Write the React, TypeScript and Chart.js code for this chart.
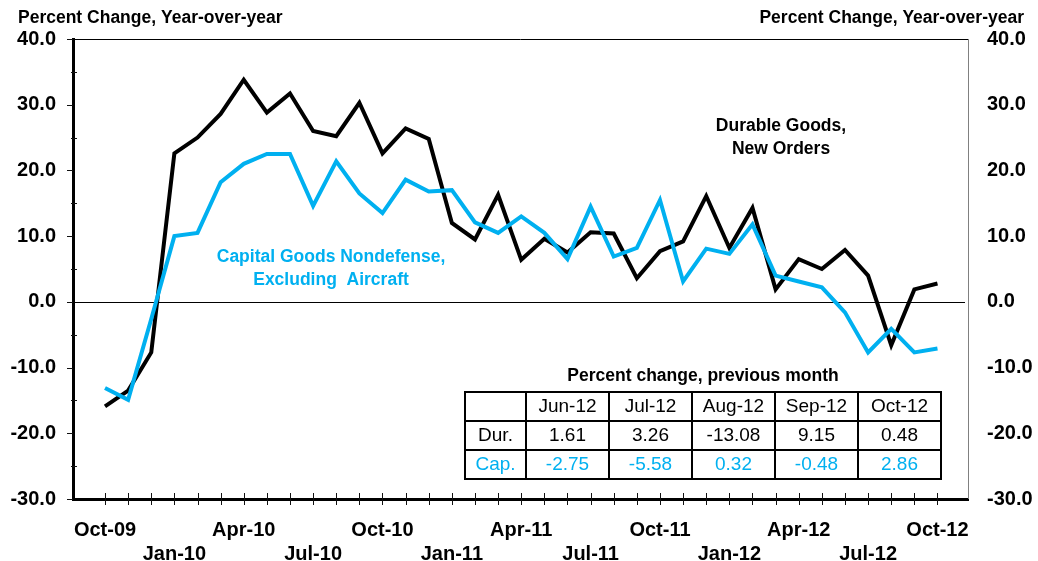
import React, { useEffect, useRef } from "react";
import { Chart, registerables } from "chart.js";
Chart.register(...registerables);

const months = [
  "Oct-09", "Nov-09", "Dec-09", "Jan-10", "Feb-10", "Mar-10", "Apr-10", "May-10", "Jun-10", "Jul-10",
  "Aug-10", "Sep-10", "Oct-10", "Nov-10", "Dec-10", "Jan-11", "Feb-11", "Mar-11", "Apr-11", "May-11",
  "Jun-11", "Jul-11", "Aug-11", "Sep-11", "Oct-11", "Nov-11", "Dec-11", "Jan-12", "Feb-12", "Mar-12",
  "Apr-12", "May-12", "Jun-12", "Jul-12", "Aug-12", "Sep-12", "Oct-12",
];

const durableGoods = [
  -15.9, -13.5, -7.7, 22.6, 25.0, 28.6, 33.8, 28.8, 31.7, 26.0,
  25.2, 30.3, 22.6, 26.4, 24.8, 12.0, 9.5, 16.3, 6.4, 9.6,
  7.5, 10.6, 10.4, 3.6, 7.7, 9.2, 16.1, 8.2, 14.3, 1.9,
  6.5, 5.0, 7.9, 4.0, -6.6, 1.9, 2.8,
];

const capitalGoods = [
  -13.1, -14.9, -2.6, 10.0, 10.5, 18.2, 21.0, 22.5, 22.5, 14.6,
  21.4, 16.5, 13.5, 18.6, 16.8, 17.0, 12.1, 10.5, 13.0, 10.5,
  6.5, 14.5, 6.9, 8.2, 15.5, 3.1, 8.1, 7.3, 11.8, 4.0,
  3.1, 2.2, -1.6, -7.7, -4.1, -7.7, -7.1,
];

const xTickLabels = [
  "Oct-09", "Jan-10", "Apr-10", "Jul-10", "Oct-10", "Jan-11", "Apr-11",
  "Jul-11", "Oct-11", "Jan-12", "Apr-12", "Jul-12", "Oct-12",
];

const axisTitle = "Percent Change, Year-over-year";
const durableLabel = ["Durable Goods,", "New Orders"];
const capitalLabel = ["Capital Goods Nondefense,", "Excluding  Aircraft"];

const tableTitle = "Percent change, previous month";
const tableMonths = ["Jun-12", "Jul-12", "Aug-12", "Sep-12", "Oct-12"];
const tableRowNames = ["Dur.", "Cap."];
const tableDurable = ["1.61", "3.26", "-13.08", "9.15", "0.48"];
const tableCapital = ["-2.75", "-5.58", "0.32", "-0.48", "2.86"];

const CYAN = "#00B0F0";
const FONT = "'Liberation Sans', Arial, Helvetica, sans-serif";

const overlayPlugin = {
  id: "overlay",
  beforeDatasetsDraw(chart: any) {
    const { ctx, chartArea, scales } = chart;
    const y0 = Math.round(scales.y.getPixelForValue(0)) + 0.5;
    ctx.save();
    ctx.strokeStyle = "#000";
    ctx.lineWidth = 1;
    ctx.beginPath();
    ctx.moveTo(chartArea.left, y0);
    ctx.lineTo(chartArea.right - 3, y0);
    ctx.stroke();
    ctx.restore();
  },
  afterDraw(chart: any) {
    const { ctx, chartArea, scales } = chart;
    const { left, right, top, bottom } = chartArea;
    ctx.save();
    // top frame line
    ctx.strokeStyle = "#000";
    ctx.lineWidth = 1;
    ctx.beginPath();
    ctx.moveTo(left, top + 0.5);
    ctx.lineTo(right, top + 0.5);
    ctx.stroke();
    // right frame line
    ctx.strokeStyle = "#808080";
    ctx.beginPath();
    ctx.moveTo(right + 0.5, top);
    ctx.lineTo(right + 0.5, bottom);
    ctx.stroke();
    // y ticks
    ctx.strokeStyle = "#111";
    ctx.lineWidth = 1;
    for (let v = -30; v <= 40; v += 5) {
      const py = Math.round(scales.y.getPixelForValue(v)) + 0.5;
      ctx.beginPath();
      if (v % 10 === 0) {
        ctx.moveTo(left - 6, py);
        ctx.lineTo(left, py);
      } else {
        ctx.moveTo(left - 2, py);
        ctx.lineTo(left + 4, py);
      }
      ctx.stroke();
    }
    // x ticks
    for (let i = 0; i < months.length; i++) {
      const px = Math.round(scales.x.getPixelForValue(i)) + 0.5;
      ctx.beginPath();
      ctx.moveTo(px, bottom - 6);
      ctx.lineTo(px, bottom + 6);
      ctx.stroke();
    }
    // axis titles
    ctx.fillStyle = "#000";
    ctx.font = `bold 17.5px ${FONT}`;
    ctx.textBaseline = "middle";
    ctx.textAlign = "left";
    ctx.fillText(axisTitle, 18, 18);
    ctx.textAlign = "right";
    ctx.fillText(axisTitle, 1024, 18);
    // series labels
    ctx.textAlign = "center";
    ctx.fillText(durableLabel[0], 781, 126);
    ctx.fillText(durableLabel[1], 781, 149.5);
    ctx.fillStyle = CYAN;
    ctx.fillText(capitalLabel[0], 331, 257);
    ctx.fillText(capitalLabel[1], 331, 280.5);
    // table
    const cols = [465, 526, 609, 692, 775, 858, 941];
    const rows = [392, 421, 450, 479];
    ctx.fillStyle = "#000";
    ctx.fillText(tableTitle, (cols[0] + cols[6]) / 2, 376);
    ctx.fillStyle = "#fff";
    ctx.fillRect(cols[0], rows[0], cols[6] - cols[0], rows[3] - rows[0]);
    ctx.strokeStyle = "#000";
    ctx.lineWidth = 2;
    for (const r of rows) {
      ctx.beginPath();
      ctx.moveTo(cols[0] - 1, r);
      ctx.lineTo(cols[6] + 1, r);
      ctx.stroke();
    }
    for (const c of cols) {
      ctx.beginPath();
      ctx.moveTo(c, rows[0]);
      ctx.lineTo(c, rows[3]);
      ctx.stroke();
    }
    ctx.font = `19px ${FONT}`;
    const cx = (k: number) => (cols[k] + cols[k + 1]) / 2;
    const cy = (k: number) => (rows[k] + rows[k + 1]) / 2 + 0.5;
    ctx.fillStyle = "#000";
    tableMonths.forEach((m, k) => ctx.fillText(m, cx(k + 1), cy(0)));
    ctx.fillText(tableRowNames[0], cx(0), cy(1));
    tableDurable.forEach((v, k) => ctx.fillText(v, cx(k + 1), cy(1)));
    ctx.fillStyle = CYAN;
    ctx.fillText(tableRowNames[1], cx(0), cy(2));
    tableCapital.forEach((v, k) => ctx.fillText(v, cx(k + 1), cy(2)));
    ctx.restore();
  },
};

export default function App() {
  const ref = useRef<HTMLCanvasElement | null>(null);
  useEffect(() => {
    if (!ref.current) return;
    const tickFont = { family: FONT, size: 20, weight: "bold" as const, lineHeight: 1.2 };
    const chart = new Chart(ref.current, {
      type: "line",
      data: {
        datasets: [
          {
            label: "Capital Goods Nondefense, Excluding Aircraft",
            data: capitalGoods.map((v, i) => ({ x: i, y: v })),
            borderColor: CYAN,
            borderWidth: 4,
            pointRadius: 0,
            tension: 0,
            order: 0,
          },
          {
            label: "Durable Goods, New Orders",
            data: durableGoods.map((v, i) => ({ x: i, y: v })),
            borderColor: "#000",
            borderWidth: 4,
            pointRadius: 0,
            tension: 0,
            order: 1,
          },
        ],
      },
      options: {
        animation: false,
        responsive: false,
        layout: { padding: { top: 39, left: 0, right: 0, bottom: 0 } },
        plugins: { legend: { display: false }, tooltip: { enabled: false } },
        scales: {
          x: {
            type: "linear",
            min: -1.384,
            max: 37.32,
            grid: { display: false, drawTicks: false, tickLength: 0 },
            border: { display: true, color: "#000", width: 3 },
            afterBuildTicks: (axis: any) => {
              axis.ticks = months.map((_, i) => ({ value: i }));
            },
            afterFit: (axis: any) => {
              axis.height = 62;
            },
            ticks: {
              autoSkip: false,
              maxRotation: 0,
              minRotation: 0,
              padding: 19,
              color: "#000",
              font: tickFont,
              callback: (_v: any, index: number) => {
                if (index % 3 !== 0) return "";
                const k = index / 3;
                const name = xTickLabels[k];
                return k % 2 === 0 ? [name, ""] : ["", name];
              },
            },
          },
          y: {
            position: "left",
            min: -30,
            max: 40,
            grid: { display: false, drawTicks: false, tickLength: 0 },
            border: { display: true, color: "#000", width: 3 },
            afterFit: (axis: any) => {
              axis.width = 73;
            },
            ticks: {
              stepSize: 10,
              padding: 17,
              color: "#000",
              font: tickFont,
              callback: (v: any) => Number(v).toFixed(1),
            },
          },
          y2: {
            position: "right",
            min: -30,
            max: 40,
            grid: { display: false, drawTicks: false, tickLength: 0 },
            border: { display: false },
            afterFit: (axis: any) => {
              axis.width = 70;
            },
            ticks: {
              stepSize: 10,
              padding: 19,
              color: "#000",
              font: tickFont,
              callback: (v: any) => Number(v).toFixed(1),
            },
          },
        },
      },
      plugins: [overlayPlugin],
    } as any);
    return () => chart.destroy();
  }, []);

  return (
    <div style={{ position: "absolute", left: 0, top: 0, width: 1038, height: 561, background: "#fff" }}>
      <canvas ref={ref} width={1038} height={561} style={{ display: "block" }} />
    </div>
  );
}
